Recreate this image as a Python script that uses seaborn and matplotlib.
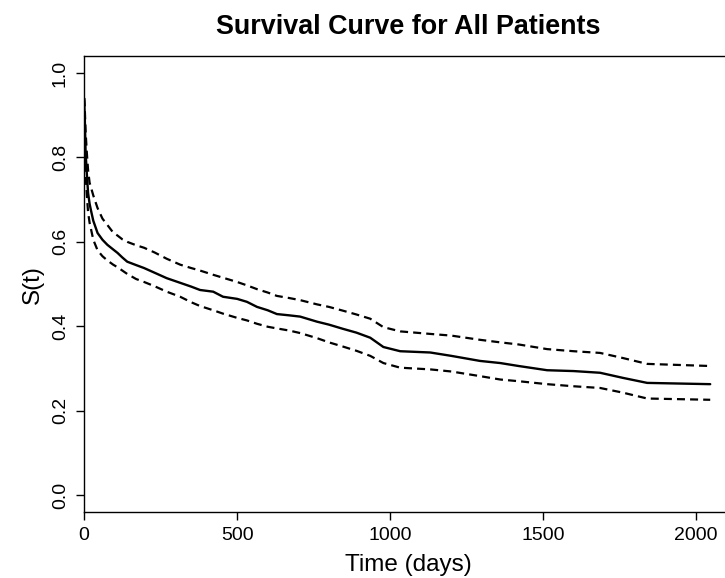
import matplotlib
matplotlib.use("Agg")
import matplotlib.pyplot as plt
import seaborn as sns

# Kaplan-Meier estimate
times = [0, 2, 5, 9, 13, 18, 22, 30, 44, 60, 76, 95, 109, 125, 141, 170, 196,
         230, 270, 314, 350, 379, 422, 454, 500, 532, 565, 600, 630, 670, 706,
         761, 800, 846, 890, 935, 978, 1033, 1131, 1200, 1294, 1360, 1420,
         1513, 1600, 1686, 1760, 1840, 2046]
surv = [0.94, 0.90, 0.811, 0.76, 0.716, 0.69, 0.676, 0.65, 0.621, 0.605, 0.593,
        0.582, 0.574, 0.563, 0.553, 0.545, 0.538, 0.527, 0.514, 0.503, 0.494,
        0.486, 0.482, 0.470, 0.465, 0.458, 0.446, 0.438, 0.429, 0.426, 0.423,
        0.411, 0.404, 0.394, 0.385, 0.373, 0.351, 0.341, 0.338, 0.330, 0.318,
        0.313, 0.306, 0.296, 0.294, 0.290, 0.278, 0.266, 0.263]
upper = [0.94, 0.92, 0.86, 0.81, 0.77, 0.74, 0.73, 0.71, 0.68, 0.655, 0.64,
         0.622, 0.615, 0.606, 0.6, 0.592, 0.586, 0.575, 0.56, 0.546, 0.538,
         0.532, 0.522, 0.515, 0.505, 0.497, 0.488, 0.48, 0.472, 0.467, 0.462,
         0.452, 0.446, 0.437, 0.428, 0.418, 0.398, 0.388, 0.382, 0.378, 0.368,
         0.362, 0.357, 0.346, 0.341, 0.337, 0.325, 0.311, 0.306]
lower = [0.94, 0.88, 0.76, 0.71, 0.67, 0.645, 0.632, 0.605, 0.58, 0.566, 0.556,
         0.546, 0.54, 0.532, 0.524, 0.512, 0.505, 0.495, 0.482, 0.47, 0.457,
         0.448, 0.438, 0.43, 0.42, 0.414, 0.406, 0.399, 0.395, 0.39, 0.384,
         0.372, 0.362, 0.352, 0.342, 0.33, 0.313, 0.302, 0.298, 0.293, 0.282,
         0.274, 0.27, 0.263, 0.258, 0.254, 0.243, 0.229, 0.226]

x_ticks = [0, 500, 1000, 1500, 2000]
y_ticks = [0.0, 0.2, 0.4, 0.6, 0.8, 1.0]

sns.set_style("ticks")
plt.rcParams['font.family'] = ['Liberation Sans', 'DejaVu Sans']
plt.rcParams['text.color'] = 'black'
plt.rcParams['axes.labelcolor'] = 'black'

fig = plt.figure(figsize=(7.25, 5.78), dpi=100)
ax = fig.add_axes([0.116, 0.114, 0.894, 0.789])

# point estimate (solid) and confidence limits (dashed)
sns.lineplot(x=times, y=surv, ax=ax, color="black", linewidth=1.7,
             estimator=None)
for band in (upper, lower):
    sns.lineplot(x=times, y=band, ax=ax, color="black", linewidth=1.6,
                 estimator=None)
ax.lines[1].set_dashes((3.6, 2.3))
ax.lines[2].set_dashes((3.6, 2.3))

ax.set_xlim(0, 2118)
ax.set_ylim(-0.04, 1.04)
ax.set_xticks(x_ticks)
ax.set_yticks(y_ticks)
ax.set_xticklabels([str(t) for t in x_ticks], fontsize=14)
ax.set_yticklabels([f"{t:.1f}" for t in y_ticks], fontsize=14,
                   rotation=90, va="center")
ax.tick_params(direction="out", length=6, width=1, colors="black", pad=5)
for s in ax.spines.values():
    s.set_color("black")
    s.set_linewidth(1)

ax.set_xlabel("Time (days)", fontsize=17.5, labelpad=7)
ax.set_ylabel("S(t)", fontsize=17.5, labelpad=6)
ax.set_title("Survival Curve for All Patients", fontsize=19.4,
             fontweight="bold", pad=16)

fig.savefig("out.png", dpi=100)
